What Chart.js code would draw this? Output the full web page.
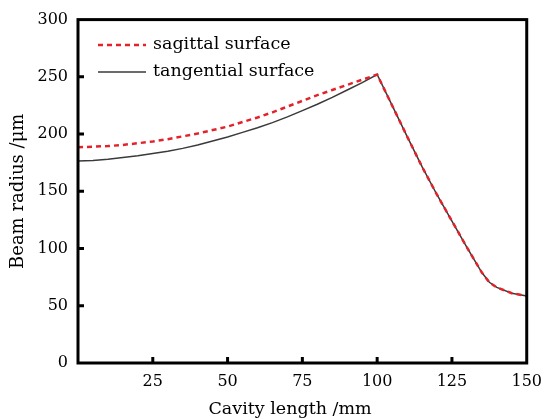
<!DOCTYPE html>
<html>
<head>
<meta charset="utf-8">
<script src="https://cdn.jsdelivr.net/npm/chart.js@4.4.0/dist/chart.umd.min.js"></script>
<style>
  html, body { margin: 0; padding: 0; background: #fff; }
</style>
</head>
<body>
<canvas id="beamChart" width="551" height="419"></canvas>
<script>
const cavityLength = [0, 5, 10, 15, 20, 25, 30, 35, 40, 45, 50, 55, 60, 65, 70, 75, 80, 85, 90, 95, 100,
  105, 110, 115, 120, 125, 130, 135, 137.5, 140, 145, 150];
const sagittal = [188.5, 189, 189.5, 190.5, 192, 193.5, 195.5, 198, 200.5, 203.5, 206.5, 210.5, 214.5,
  219, 224, 229, 234, 238.5, 243, 247.5, 252,
  225, 198, 171.5, 147, 124, 101, 79, 70.5, 66, 61, 58.5];
const tangential = [176.5, 177, 178, 179.5, 181, 183, 185, 187.5, 190.5, 194, 197.5, 201.5, 205.5,
  210, 215, 220.5, 226, 232, 238.5, 245, 252,
  225, 198, 171.5, 147, 124, 101, 79, 70.5, 66, 61, 58.5];
const xTicks = [25, 50, 75, 100, 125];
const yTicks = [50, 100, 150, 200, 250];
const xTitle = "Cavity length /mm";

const serif = "'DejaVu Serif', 'Liberation Serif', serif";

// boîte + graduations vers l'intérieur + légende
const framePlugin = {
  id: "frame",
  afterDatasetsDraw(chart) {
    const { ctx, chartArea: a, scales } = chart;
    ctx.save();
    ctx.strokeStyle = "#000";
    ctx.lineWidth = 3;
    ctx.strokeRect(a.left, a.top, a.right - a.left, a.bottom - a.top);
    ctx.beginPath();
    xTicks.forEach(v => {
      const px = scales.x.getPixelForValue(v);
      ctx.moveTo(px, a.bottom);
      ctx.lineTo(px, a.bottom - 6);
    });
    yTicks.forEach(v => {
      const py = scales.y.getPixelForValue(v);
      ctx.moveTo(a.left, py);
      ctx.lineTo(a.left + 6, py);
    });
    ctx.stroke();

    // titre de l'axe x
    ctx.font = "17.5px " + serif;
    ctx.fillStyle = "#000";
    ctx.textAlign = "center";
    ctx.textBaseline = "middle";
    ctx.fillText(xTitle, 290, 409);

    // légende
    ctx.textAlign = "left";
    chart.data.datasets.forEach((ds, i) => {
      const y = 45 + i * 27;
      ctx.beginPath();
      ctx.strokeStyle = ds.borderColor;
      ctx.lineWidth = ds.borderWidth;
      ctx.setLineDash(ds.borderDash || []);
      ctx.moveTo(98, y);
      ctx.lineTo(146, y);
      ctx.stroke();
      ctx.setLineDash([]);
      ctx.fillText(ds.label, 153, y - 1);
    });
    ctx.restore();
  }
};

const ctx = document.getElementById("beamChart").getContext("2d");

new Chart(ctx, {
  type: "line",
  data: {
    datasets: [{
      label: "sagittal surface",
      data: cavityLength.map((x, i) => ({ x: x, y: sagittal[i] })),
      borderColor: "#e3232b",
      borderWidth: 2.5,
      borderDash: [5, 4],
      pointRadius: 0,
      tension: 0,
      fill: false
    }, {
      label: "tangential surface",
      data: cavityLength.map((x, i) => ({ x: x, y: tangential[i] })),
      borderColor: "#3a3a3a",
      borderWidth: 1.5,
      pointRadius: 0,
      tension: 0,
      fill: false
    }]
  },
  options: {
    responsive: false,
    animation: false,
    layout: { padding: { top: 18, right: 17, left: 0, bottom: 0 } },
    plugins: { legend: { display: false }, tooltip: { enabled: false } },
    scales: {
      x: {
        type: "linear",
        min: 0,
        max: 150,
        grid: { display: false, drawTicks: false },
        border: { display: false },
        ticks: {
          stepSize: 25,
          padding: 9,
          color: "#000",
          font: { family: serif, size: 16 },
          callback: v => (v === 0 ? "" : v)
        },
        afterFit: s => { s.height = 56; }
      },
      y: {
        min: 0,
        max: 300,
        grid: { display: false, drawTicks: false },
        border: { display: false },
        ticks: {
          stepSize: 50,
          padding: 10,
          color: "#000",
          font: { family: serif, size: 16 }
        },
        title: {
          display: true,
          text: "Beam radius /μm",
          color: "#000",
          font: { family: serif, size: 18 },
          padding: { top: 8, bottom: 0 }
        },
        afterFit: s => { s.width = 78; }
      }
    }
  },
  plugins: [framePlugin]
});
</script>
</body>
</html>
